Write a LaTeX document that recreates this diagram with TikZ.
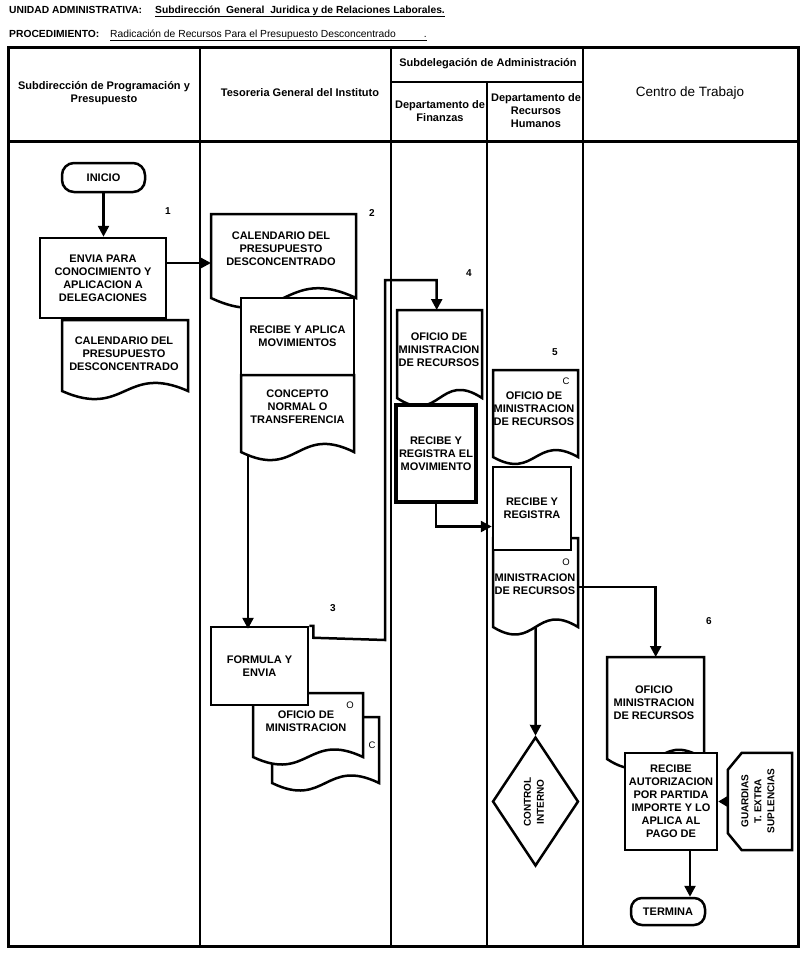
\documentclass[tikz,border=0pt]{standalone}
\usepackage{fontspec}
\setmainfont{Liberation Sans}
\usetikzlibrary{arrows.meta,shapes.geometric}

\newcommand{\titlefont}{\fontsize{10.3}{12}\selectfont}
\newcommand{\headfont}{\fontsize{11}{13}\selectfont\bfseries}
\newcommand{\boxfont}{\fontsize{11}{13}\selectfont\bfseries}
\newcommand{\rotfont}{\fontsize{10}{13}\selectfont\bfseries}
\newcommand{\numfont}{\fontsize{10}{12}\selectfont\bfseries}
\newcommand{\markfont}{\fontsize{9.5}{11}\selectfont}

% document shape: name, left, top, right, bottom level, wave
\newcommand{\docshape}[6]{%
	\draw[doc line] (#4,#5) -- (#4,#3) -- (#2,#3) -- (#2,#5)
		.. controls ({(#2+#4)/2},{#5+#6}) and ({(#2+#4)/2},{#5-#6}) .. (#4,#5) -- cycle;
	\node[inner sep=0pt,minimum width={#4-#2},minimum height={#5-#3},anchor=north west] (#1) at (#2,#3) {};
}

\begin{document}
\begin{tikzpicture}[x=1pt,y=-1pt,>={Triangle[length=11pt,width=11pt]},
		proc node/.style={draw,fill=white,line width=2.5pt,align=center,font=\boxfont,inner sep=0pt},
		term node/.style={draw,fill=white,line width=2.5pt,rounded corners=12pt,font=\boxfont,inner sep=0pt},
		text node/.style={align=center,font=\boxfont,inner sep=0pt},
		rot node/.style={align=center,font=\rotfont,inner sep=0pt,rotate=90},
		num node/.style={font=\numfont,inner sep=0pt},
		mark node/.style={font=\markfont,inner sep=0pt},
		head node/.style={align=center,font=\headfont,inner sep=0pt},
		doc line/.style={draw,fill=white,line width=2.5pt},
		flow/.style={->,line width=2.5pt},
		grid line/.style={line width=2pt}]
	\useasboundingbox (0,0) rectangle (806,953);
	%
	% Heading of the procedure.
	\node[anchor=base west,inner sep=0pt,font=\titlefont\bfseries] (unidad) at (9,13) {UNIDAD ADMINISTRATIVA:};
	\node[anchor=base west,inner sep=0pt,font=\titlefont\bfseries] (unidadval) at (155,13)
		{\underline{Subdirección\ \ General\ \ Juridica y de Relaciones Laborales.}};
	\node[anchor=base west,inner sep=0pt,font=\titlefont\bfseries] (procedim) at (9,37) {PROCEDIMIENTO:};
	\node[anchor=base west,inner sep=0pt,font=\titlefont] (procval) at (110,37)
		{\underline{Radicación de Recursos Para el Presupuesto Desconcentrado\hspace{28pt}.}};
	%
	% Swim lanes.
	\draw[line width=3pt] (8,47) rectangle (798,946);
	\draw[line width=3pt] (8,141) -- (798,141);
	\foreach \x in {200,391,583}
		\draw[grid line] (\x,47) -- (\x,946);
	\draw[grid line] (487,82) -- (487,946);
	\draw[grid line] (391,82) -- (583,82);
	\node[head node] (h1) at (104,93) {Subdirección de Programación y\\Presupuesto};
	\node[head node] (h2) at (300,93) {Tesoreria General del Instituto};
	\node[head node] (h3) at (488,64) {Subdelegación de Administración};
	\node[head node] (h31) at (440,111) {Departamento de\\Finanzas};
	\node[head node] (h32) at (536,111) {Departamento de\\Recursos\\Humanos};
	\node[head node,font=\fontsize{13.5}{16}\selectfont] (h4) at (690,93) {Centro de Trabajo};
	%
	% Subdireccion de Programacion y Presupuesto.
	\node[term node,minimum width=83,minimum height=29] (inicio) at (103.5,177.5) {INICIO};
	\docshape{cal1}{62}{320}{188}{391}{28}
	\node[text node] (cal1text) at (124,354) {CALENDARIO DEL\\PRESUPUESTO\\DESCONCENTRADO};
	\node[proc node,minimum width=126,minimum height=80] (envia) at (103,278)
		{ENVIA PARA\\CONOCIMIENTO Y\\APLICACION A\\DELEGACIONES};
	\node[num node] (n1) at (168,211) {1};
	%
	% Tesoreria General del Instituto.
	\docshape{cal2}{211}{214}{356}{298}{34}
	\node[text node] (cal2text) at (281,249) {CALENDARIO DEL\\PRESUPUESTO\\DESCONCENTRADO};
	\node[proc node,minimum width=113,minimum height=77] (aplica) at (297.5,336.5) {RECIBE Y APLICA\\MOVIMIENTOS};
	\docshape{concepto}{241}{375}{354}{452}{28}
	\node[text node] (conctext) at (297.5,407) {CONCEPTO\\NORMAL O\\TRANSFERENCIA};
	\node[num node] (n2) at (372,213) {2};
	\docshape{ofiback}{272}{717}{379}{783}{26}
	\node[mark node] (markc2) at (372,745) {C};
	\docshape{ofifront}{253}{693}{363}{757}{26}
	\node[text node] (ofitext) at (306,721) {OFICIO DE\\MINISTRACION};
	\node[mark node] (marko2) at (350,705) {O};
	\node[proc node,minimum width=97,minimum height=78] (formula) at (259.5,666) {FORMULA Y\\ENVIA};
	\node[num node] (n3) at (333,608) {3};
	%
	% Departamento de Finanzas.
	\docshape{ofc3}{397}{310}{482}{398}{28}
	\node[text node] (ofc3text) at (439,350) {OFICIO DE\\MINISTRACION\\DE RECURSOS};
	\node[proc node,line width=4pt,minimum width=80,minimum height=97] (reg3) at (436,453.5)
		{RECIBE Y\\REGISTRA EL\\MOVIMIENTO};
	\node[num node] (n4) at (469,273) {4};
	%
	% Departamento de Recursos Humanos.
	\docshape{ofc4}{493}{370}{578}{457}{24}
	\node[text node] (ofc4text) at (534,409) {OFICIO DE\\MINISTRACION\\DE RECURSOS};
	\node[mark node] (markc4) at (566,381) {C};
	\docshape{min4}{493}{538}{578}{627}{26}
	\node[text node] (min4text) at (535,584.5) {MINISTRACION\\DE RECURSOS};
	\node[mark node] (marko4) at (566,562) {O};
	\node[proc node,minimum width=78,minimum height=83] (reg4) at (532,508.5) {RECIBE Y\\REGISTRA};
	\node[num node] (n5) at (555,352) {5};
	\node[diamond,draw,fill=white,line width=2.5pt,minimum width=86,minimum height=129,inner sep=0pt]
		(ctrl) at (535.5,801.5) {};
	\node[rot node] (ctrltext) at (534,802) {CONTROL\\INTERNO};
	%
	% Centro de Trabajo.
	\docshape{ofc5}{607}{657}{704}{759}{32}
	\node[text node] (ofc5text) at (654,703) {OFICIO\\MINISTRACION\\DE RECURSOS};
	\node[proc node,minimum width=92,minimum height=97] (autor) at (671,801.5)
		{RECIBE\\AUTORIZACION\\POR PARTIDA\\IMPORTE Y LO\\APLICA AL\\PAGO DE};
	\node[inner sep=0pt,minimum width=64,minimum height=97] (guard) at (760,801.5) {};
	\draw[doc line] ([xshift=14pt]guard.north west) -- (guard.north east) -- (guard.south east)
		-- ([xshift=14pt]guard.south west) -- ([yshift=17pt]guard.south west)
		-- ([yshift=-17pt]guard.north west) -- cycle;
	\node[rot node] (guardtext) at (758,801) {GUARDIAS\\T. EXTRA\\SUPLENCIAS};
	\node[term node,minimum width=74,minimum height=27,rounded corners=11pt] (termina) at (668,911.5) {TERMINA};
	\node[num node] (n6) at (709,621) {6};
	%
	% Flow between the steps.
	\draw[flow] (inicio.south) -- (inicio.south |- envia.north);
	\draw[flow] ([yshift=15pt]envia.east) -- ([yshift=15pt]envia.east -| cal2.west);
	\draw[flow] ([xshift=7pt,yshift=-3pt]concepto.south west)
		-- ([xshift=7pt,yshift=-3pt]concepto.south west |- formula.north);
	\draw[flow] (formula.north east) -- ++(4,0) -- ++(0,12) -- (385,640) -- (385,280)
		-| ([xshift=-3pt]ofc3.north);
	\draw[flow] (reg3.south) |- ([yshift=-18pt]reg4.west);
	\draw[flow] ([yshift=-4.5pt]min4.east) -| (ofc5.north);
	\draw[flow] (min4.south) -- (ctrl.north);
	\draw[flow,>={Triangle[length=9pt,width=10pt]}] (guard.west) -- (autor.east);
	\draw[flow] ([xshift=19pt]autor.south) -- ([xshift=19pt]autor.south |- termina.north);
\end{tikzpicture}
\end{document}
